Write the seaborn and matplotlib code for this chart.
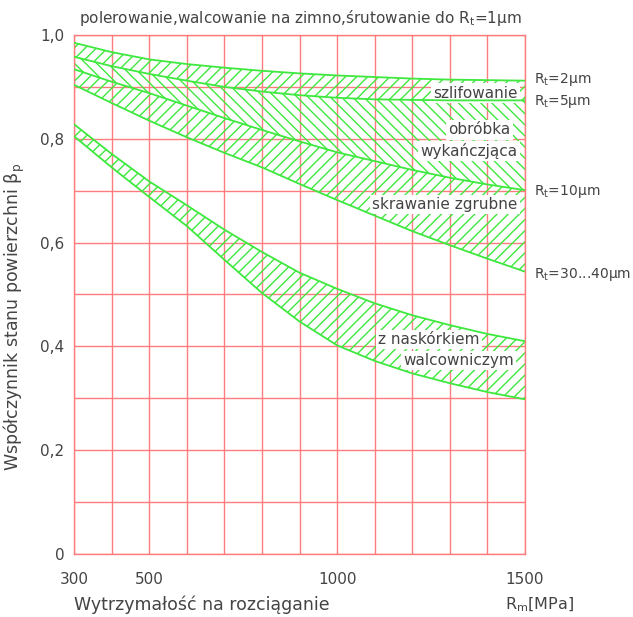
import matplotlib
matplotlib.use("Agg")
import matplotlib.pyplot as plt
import seaborn as sns
import pandas as pd

# tensile strength Rm [MPa]
rm = [300, 400, 500, 600, 700, 800, 900, 1000, 1100, 1200, 1300, 1400, 1500]

# boundary curves of surface factor beta_p
rt_2um = [0.985, 0.967, 0.953, 0.944, 0.937, 0.931, 0.926, 0.922, 0.919, 0.916, 0.914, 0.913, 0.912]
rt_5um = [0.958, 0.940, 0.925, 0.912, 0.900, 0.891, 0.884, 0.879, 0.876, 0.875, 0.874, 0.874, 0.874]
rt_10um = [0.934, 0.910, 0.888, 0.864, 0.840, 0.817, 0.795, 0.774, 0.757, 0.740, 0.725, 0.712, 0.701]
rt_30_40um = [0.904, 0.869, 0.835, 0.803, 0.773, 0.745, 0.713, 0.682, 0.652, 0.622, 0.595, 0.569, 0.544]
skin_upper = [0.828, 0.771, 0.718, 0.672, 0.625, 0.582, 0.542, 0.511, 0.483, 0.460, 0.441, 0.424, 0.410]
skin_lower = [0.805, 0.745, 0.688, 0.632, 0.567, 0.503, 0.448, 0.402, 0.372, 0.348, 0.329, 0.312, 0.298]

x_ticks = [300, 500, 1000, 1500]
y_tick_labels = ["0", "0,2", "0,4", "0,6", "0,8", "1,0"]

region_labels = ["szlifowanie", "obróbka", "wykańczjąca", "skrawanie zgrubne",
                 "z naskórkiem", "walcowniczym"]
rt_labels = ["R$_t$=2µm", "R$_t$=5µm", "R$_t$=10µm", "R$_t$=30...40µm"]

GREEN = "#3ee83e"
RED = "#ff7c7c"
TEXT = "#444444"

sns.set_theme(style="white")
plt.rcParams["font.family"] = ["DejaVu Sans"]
plt.rcParams["mathtext.default"] = "regular"
plt.rcParams["hatch.linewidth"] = 1.0

fig = plt.figure(figsize=(6.33, 6.17), dpi=100)
ax = fig.add_axes([0.1169, 0.1021, 0.7125, 0.8412])

df = pd.DataFrame({
    "Rm": rm * 6,
    "beta": rt_2um + rt_5um + rt_10um + rt_30_40um + skin_upper + skin_lower,
    "curve": sum([[name] * len(rm) for name in
                  ["rt2", "rt5", "rt10", "rt30", "skin_up", "skin_low"]], []),
})
sns.lineplot(data=df, x="Rm", y="beta", hue="curve", units="curve",
             palette=[GREEN] * 6, linewidth=1.3, legend=False, ax=ax,
             estimator=None, zorder=6)

bands = [(rt_2um, rt_5um, "///"), (rt_5um, rt_10um, "\\\\\\"),
         (rt_10um, rt_30_40um, "///"), (skin_upper, skin_lower, "///")]
for upper, lower, hatch in bands:
    ax.fill_between(rm, lower, upper, facecolor="none", edgecolor=GREEN,
                    hatch=hatch, linewidth=0, zorder=2)

ax.set_xlim(300, 1500)
ax.set_ylim(0, 1.0)
ax.set_xticks(range(300, 1501, 100))
ax.set_xticklabels([str(v) if v in x_ticks else "" for v in range(300, 1501, 100)])
ax.set_yticks([i / 10 for i in range(11)])
ax.set_yticklabels([y_tick_labels[i // 2] if i % 2 == 0 else "" for i in range(11)])
ax.tick_params(axis="x", length=0, pad=13, labelsize=11, labelcolor=TEXT)
ax.tick_params(axis="y", length=0, pad=7, labelsize=11, labelcolor=TEXT)
ax.grid(True, color=RED, linewidth=1.0)
ax.set_axisbelow(True)
for s in ax.spines.values():
    s.set_color(RED)
    s.set_linewidth(1.0)
ax.set_xlabel("")
ax.set_ylabel("Współczynnik stanu powierzchni β$_p$", fontsize=12.5, color=TEXT)
ax.yaxis.set_label_coords(-0.104, 0.457)

box = dict(facecolor="white", edgecolor="none", pad=1.5)
kw = dict(fontsize=11, color=TEXT, bbox=box, zorder=5, ha="right", va="center")
ax.text(1480, 0.888, region_labels[0], **kw)
ax.text(1462, 0.817, region_labels[1], **kw)
ax.text(1480, 0.777, region_labels[2], **kw)
ax.text(1480, 0.674, region_labels[3], **kw)
ax.text(1380, 0.413, region_labels[4], **kw)
ax.text(1470, 0.373, region_labels[5], **kw)

for lab, yv in zip(rt_labels, [0.914, 0.872, 0.699, 0.538]):
    ax.text(1525, yv, lab, fontsize=10, color=TEXT, ha="left", va="center",
            clip_on=False)

fig.text(79 / 633, 1 - 18 / 617,
         "polerowanie,walcowanie na zimno,śrutowanie do R$_t$=1µm",
         fontsize=11, color=TEXT, ha="left", va="center")
ax.text(0.0, -0.098, "Wytrzymałość na rozciąganie", transform=ax.transAxes,
        fontsize=12.5, color=TEXT, ha="left", va="center")
ax.text(0.956, -0.098, "R$_m$[MPa]", transform=ax.transAxes,
        fontsize=11.5, color=TEXT, ha="left", va="center")

fig.savefig("out.png", dpi=100)
